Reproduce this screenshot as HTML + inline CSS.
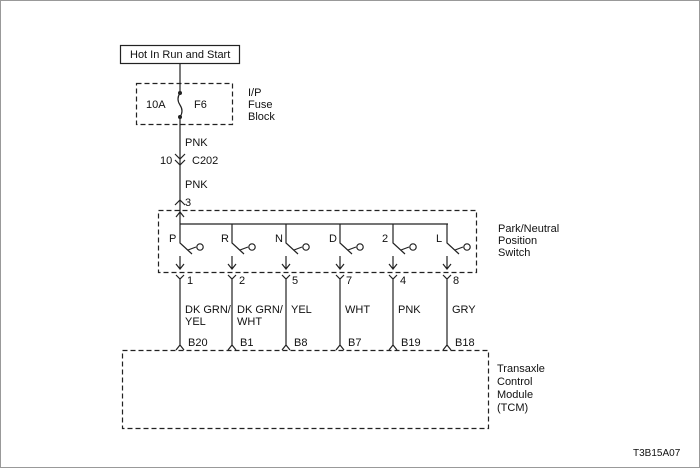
<!DOCTYPE html>
<html><head><meta charset="utf-8"><style>
html,body{margin:0;padding:0;background:#fff}
svg{display:block}
text{font-family:"Liberation Sans",Arial,sans-serif;font-size:11px;fill:#111}
</style></head><body>
<svg width="700" height="468" viewBox="0 0 700 468" xmlns="http://www.w3.org/2000/svg">
<rect x="0.5" y="0.5" width="699" height="467" fill="#fff" stroke="#999"/>
<g stroke="#222" fill="none" stroke-width="1.2">
<rect x="120.5" y="45.5" width="119" height="18"/>
<line x1="180" y1="64" x2="180" y2="93"/>
<line x1="180" y1="117" x2="180" y2="224"/>
<rect x="136.5" y="83.5" width="96" height="41" stroke-dasharray="5,3"/>
<path d="M180 93 q-4 6 0 12 q4 6 0 12"/>
<path d="M175 154 l5 5 l5 -5 M175 160 l5 5 l5 -5"/>
<path d="M175 205 l5 -5 l5 5"/>
<rect x="158.5" y="210.5" width="318" height="62" stroke-dasharray="5,3"/>
<line x1="180" y1="224" x2="448" y2="224"/>
<path d="M176 217 l4 -5 l4 5"/>
</g>
<g fill="#222"><circle cx="180" cy="93" r="2"/><circle cx="180" cy="117" r="2"/></g>
<g id="sw" stroke="#222" fill="none" stroke-width="1.2">
<path d="M180 224 V243 L192 254 M188 250 L196 247"/><circle cx="200" cy="247" r="3.2"/>
<path d="M180 256 V269 M176 264 l4 5 l4 -5"/>
<path d="M176 275 l4 4 l4 -4 M180 279 V345 M176 350 l4 -5 l4 5"/>
</g>
<use href="#sw" x="52"/><use href="#sw" x="106"/><use href="#sw" x="160"/><use href="#sw" x="213"/><use href="#sw" x="267"/>
<rect x="122.5" y="350.5" width="366" height="78" fill="none" stroke="#222" stroke-width="1.2" stroke-dasharray="5,3"/>
<text x="130" y="58">Hot In Run and Start</text>
<text x="146" y="108">10A</text><text x="194" y="108">F6</text>
<text x="248" y="96">I/P</text><text x="248" y="108">Fuse</text><text x="248" y="120">Block</text>
<text x="185" y="146">PNK</text>
<text x="160" y="164">10</text><text x="192" y="164">C202</text>
<text x="185" y="188">PNK</text>
<text x="185" y="206">3</text>
<text x="169" y="242">P</text><text x="221" y="242">R</text><text x="275" y="242">N</text><text x="329" y="242">D</text><text x="382" y="242">2</text><text x="436" y="242">L</text>
<text x="498" y="232">Park/Neutral</text><text x="498" y="244">Position</text><text x="498" y="256">Switch</text>
<text x="187" y="284">1</text><text x="239" y="284">2</text><text x="292" y="284">5</text><text x="346" y="284">7</text><text x="400" y="284">4</text><text x="453" y="284">8</text>
<text x="185" y="313">DK GRN/</text><text x="185" y="325">YEL</text>
<text x="237" y="313">DK GRN/</text><text x="237" y="325">WHT</text>
<text x="291" y="313">YEL</text><text x="345" y="313">WHT</text><text x="398" y="313">PNK</text><text x="452" y="313">GRY</text>
<text x="188" y="346">B20</text><text x="240" y="346">B1</text><text x="294" y="346">B8</text><text x="348" y="346">B7</text><text x="401" y="346">B19</text><text x="455" y="346">B18</text>
<text x="497" y="372">Transaxle</text><text x="497" y="385">Control</text><text x="497" y="398">Module</text><text x="497" y="411">(TCM)</text>
<text x="633" y="456" style="font-size:10px">T3B15A07</text>
</svg>
</body></html>
